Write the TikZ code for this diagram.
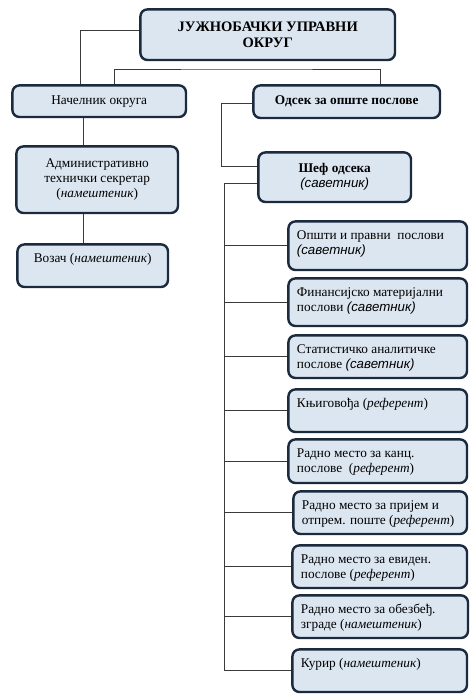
\documentclass[tikz,border=0pt]{standalone}
\usepackage{fontspec}
\setmainfont{Liberation Serif}
\newfontfamily\sansfam{Liberation Sans}
\usetikzlibrary{calc}
\definecolor{boxfill}{HTML}{DCE6F1}
\definecolor{boxline}{HTML}{1B2A3C}
\definecolor{conn}{HTML}{3A3A3A}
\newcommand{\sav}{{\sansfam\itshape (саветник)}}
\begin{document}
\begin{tikzpicture}[x=1pt,y=-1pt,
  orgbox/.style={draw=boxline, line width=2.4pt, fill=boxfill, rounded corners=7pt,
    anchor=north west, inner sep=0pt, align=center,
    font=\fontsize{13.3}{15}\selectfont},
  boxtext/.style={anchor=north west, inner sep=0pt, align=left,
    font=\fontsize{13.3}{15}\selectfont},
  link/.style={draw=conn, line width=0.9pt}]
\useasboundingbox (0,0) rectangle (475,700);
% boxes (outer edges minus half border)
\node[orgbox, minimum width=254.6pt, minimum height=50.6pt,
  font=\fontsize{14.5}{16}\selectfont\bfseries] (top) at (139.2,8.2)
  {ЈУЖНОБАЧКИ УПРАВНИ\\ОКРУГ};
\node[orgbox, minimum width=173.6pt, minimum height=31.6pt] (nach) at (11.2,84.2) {Начелник округа};
\node[orgbox, minimum width=186.6pt, minimum height=32.6pt,
  font=\fontsize{13.3}{15}\selectfont\bfseries] (odsek) at (252.2,84.2) {Одсек за опште послове};
\node[orgbox, minimum width=161.6pt, minimum height=66.6pt] (admin) at (15.2,145.2)
  {Административно\\технички секретар\\(\textit{намештеник})};
\node[orgbox, minimum width=150.6pt, minimum height=42.6pt] (vozac) at (16.2,243.2) {};
\node[boxtext, anchor=north] (vozact) at ($(vozac.north)+(0,8.5)$) {\strut Возач (\textit{намештеник})};
\node[orgbox, minimum width=152.6pt, minimum height=49.6pt] (sef) at (257.2,151.2)
  {\textbf{Шеф одсека}\\\sav};
% right column
\node[orgbox, minimum width=178.6pt, minimum height=48.6pt] (r1) at (287.2,220.2) {};
\node[orgbox, minimum width=178.6pt, minimum height=47.6pt] (r2) at (287.2,277.2) {};
\node[orgbox, minimum width=178.6pt, minimum height=42.6pt] (r3) at (287.2,334.2) {};
\node[orgbox, minimum width=178.6pt, minimum height=42.6pt] (r4) at (287.2,388.2) {};
\node[orgbox, minimum width=178.6pt, minimum height=43.6pt] (r5) at (287.2,438.2) {};
\node[orgbox, minimum width=173.6pt, minimum height=42.6pt] (r6) at (292.2,490.2) {};
\node[orgbox, minimum width=174.6pt, minimum height=42.6pt] (r7) at (291.2,544.2) {};
\node[orgbox, minimum width=175.6pt, minimum height=42.6pt] (r8) at (291.2,594.2) {};
\node[orgbox, minimum width=174.6pt, minimum height=42.6pt] (r9) at (291.2,648.2) {};
\node[boxtext] (t1) at ($(r1.north west)+(9.5,8.5)$) {\strut Општи и правни\ \ послови\\\sav};
\node[boxtext] (t2) at ($(r2.north west)+(9.5,8.5)$) {\strut Финансијско материјални\\послови \sav};
\node[boxtext] (t3) at ($(r3.north west)+(9.5,8.5)$) {\strut Статистичко аналитичке\\послове \sav};
\node[boxtext] (t4) at ($(r4.north west)+(9.5,8.5)$) {\strut Књиговођа (\textit{референт})};
\node[boxtext] (t5) at ($(r5.north west)+(9.5,8.5)$) {\strut Радно место за канц.\\послове\ \ (\textit{референт})};
\node[boxtext] (t6) at ($(r6.north west)+(9.5,8.5)$) {\strut Радно место за пријем и\\отпрем. поште (\textit{референт})};
\node[boxtext] (t7) at ($(r7.north west)+(9.5,8.5)$) {\strut Радно место за евиден.\\послове (\textit{референт})};
\node[boxtext] (t8) at ($(r8.north west)+(9.5,8.5)$) {\strut Радно место за обезбеђ.\\зграде (\textit{намештеник})};
\node[boxtext] (t9) at ($(r9.north west)+(9.5,8.5)$) {\strut Курир (\textit{намештеник})};
% connectors
\coordinate (lx) at (83,0);
\coordinate (bus) at (246,69);
\coordinate (sx) at (224,0);
\draw[link] ([yshift=4.5pt]top.west) -| ([xshift=-19pt]nach.north);
\draw[link] ([xshift=15pt]nach.north) |- (bus) -| ([xshift=33.5pt]odsek.north);
\draw[link] (nach.south -| lx) -- (admin.north -| lx);
\draw[link] (admin.south -| lx) -- (vozac.north -| lx);
\draw[link] ([yshift=-1.5pt]odsek.west) -- ++(-31,0) |- ([yshift=11pt]sef.west);
\draw[link] ([yshift=-6pt]sef.west) -| (sx |- r9.west) -- (r9.west);
\foreach \r in {r1,r2,r3,r4,r5,r6,r7,r8}{
  \draw[link] (sx |- \r.west) -- (\r.west);
}
\end{tikzpicture}
\end{document}
